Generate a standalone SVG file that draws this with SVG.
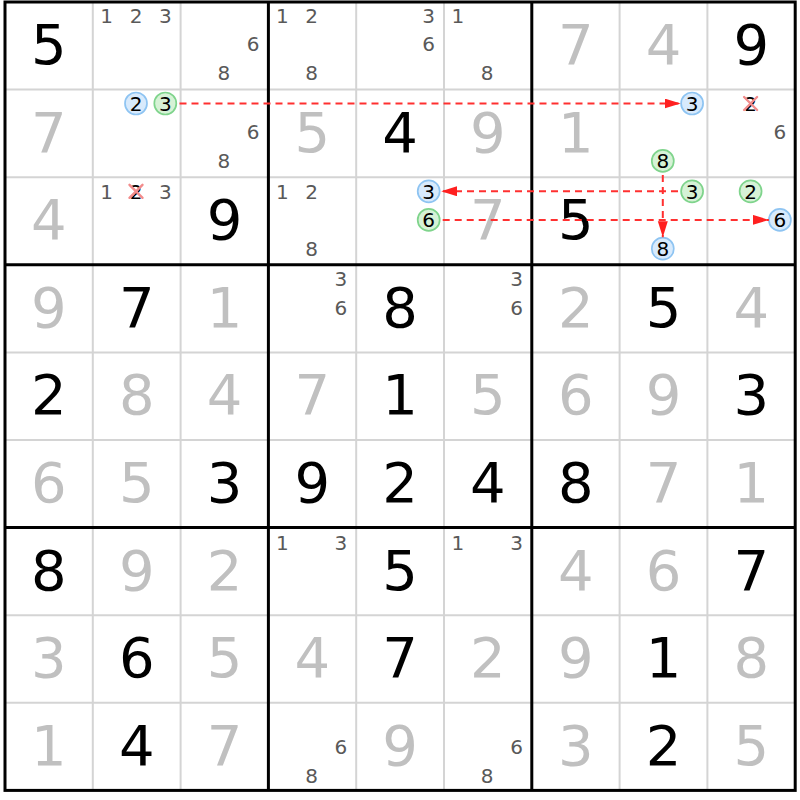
<svg xmlns="http://www.w3.org/2000/svg" width="800" height="800" viewBox="0 0 800 800">
<style>
text{font-family:"DejaVu Sans","Verdana",sans-serif;text-anchor:middle}
.g{font-size:56px;fill:#000}
.s{font-size:56px;fill:#c0c0c0}
.c{font-size:20px;fill:#595959}
.h{font-size:20px;fill:#000}
.cb{fill:#d8eafc;stroke:#8ec4f2;stroke-width:1.7}
.cg{fill:#d6f2d6;stroke:#7fd48c;stroke-width:1.7}
.x{stroke:#f28c8c;stroke-width:2.4;stroke-linecap:round}
.thin{stroke:#d4d4d4;stroke-width:2}
.thick{stroke:#000;stroke-width:3}
.arr{stroke:#ff3030;stroke-width:2;stroke-dasharray:7 5;fill:none;marker-end:url(#ah)}
</style>
<defs>
<marker id="ah" markerUnits="userSpaceOnUse" markerWidth="18" markerHeight="12" refX="16" refY="5" orient="auto">
<path d="M0,0 L16,5 L0,10 Z" fill="#ff2020"/>
</marker>
</defs>
<rect width="800" height="800" fill="#fff"/>
<g id="grid">
<g class="thin">
<line x1="92.8" y1="2" x2="92.8" y2="790.4"/>
<line x1="180.6" y1="2" x2="180.6" y2="790.4"/>
<line x1="356.2" y1="2" x2="356.2" y2="790.4"/>
<line x1="444" y1="2" x2="444" y2="790.4"/>
<line x1="619.6" y1="2" x2="619.6" y2="790.4"/>
<line x1="707.4" y1="2" x2="707.4" y2="790.4"/>
<line x1="5" y1="89.6" x2="795.2" y2="89.6"/>
<line x1="5" y1="177.2" x2="795.2" y2="177.2"/>
<line x1="5" y1="352.4" x2="795.2" y2="352.4"/>
<line x1="5" y1="440" x2="795.2" y2="440"/>
<line x1="5" y1="615.2" x2="795.2" y2="615.2"/>
<line x1="5" y1="702.8" x2="795.2" y2="702.8"/>
</g>
<g class="thick">
<line x1="268.4" y1="2" x2="268.4" y2="790.4"/>
<line x1="531.8" y1="2" x2="531.8" y2="790.4"/>
<line x1="5" y1="264.8" x2="795.2" y2="264.8"/>
<line x1="5" y1="527.6" x2="795.2" y2="527.6"/>
<rect x="5" y="2" width="790.2" height="788.4" fill="none"/>
</g>
</g>
<g id="cells">
<!-- row 0 -->
<g id="r0c0"><text class="g" x="48.9" y="64">5</text></g>
<g id="r0c1"><text class="c" x="106.7" y="22.8">1</text><text class="c" x="136" y="22.8">2</text><text class="c" x="165.3" y="22.8">3</text></g>
<g id="r0c2"><text class="c" x="253.1" y="51.4">6</text><text class="c" x="223.8" y="80.2">8</text></g>
<g id="r0c3"><text class="c" x="282.3" y="22.8">1</text><text class="c" x="311.6" y="22.8">2</text><text class="c" x="311.6" y="80.2">8</text></g>
<g id="r0c4"><text class="c" x="428.7" y="22.8">3</text><text class="c" x="428.7" y="51.4">6</text></g>
<g id="r0c5"><text class="c" x="457.9" y="22.8">1</text><text class="c" x="487.2" y="80.2">8</text></g>
<g id="r0c6"><text class="s" x="575.7" y="64">7</text></g>
<g id="r0c7"><text class="s" x="663.5" y="64">4</text></g>
<g id="r0c8"><text class="g" x="751.3" y="64">9</text></g>
<!-- row 1 -->
<g id="r1c0"><text class="s" x="48.9" y="151.6">7</text></g>
<g id="r1c1"><circle class="cb" cx="136" cy="103.5" r="11"/><text class="h" x="136" y="110.7">2</text><circle class="cg" cx="165.3" cy="103.5" r="11"/><text class="h" x="165.3" y="110.7">3</text></g>
<g id="r1c2"><text class="c" x="253.1" y="139.3">6</text><text class="c" x="223.8" y="168.1">8</text></g>
<g id="r1c3"><text class="s" x="312.3" y="151.6">5</text></g>
<g id="r1c4"><text class="g" x="400.1" y="151.6">4</text></g>
<g id="r1c5"><text class="s" x="487.9" y="151.6">9</text></g>
<g id="r1c6"><text class="s" x="575.7" y="151.6">1</text></g>
<g id="r1c7"><circle class="cb" cx="692.1" cy="103.5" r="11"/><text class="h" x="692.1" y="110.7">3</text><circle class="cg" cx="662.8" cy="160.9" r="11"/><text class="h" x="662.8" y="168.1">8</text></g>
<g id="r1c8"><text class="h" x="750.6" y="110.7">2</text><path class="x" d="M744.1,97 L757.1,110 M757.1,97 L744.1,110"/><text class="c" x="779.9" y="139.3">6</text></g>
<!-- row 2 -->
<g id="r2c0"><text class="s" x="48.9" y="239.2">4</text></g>
<g id="r2c1"><text class="c" x="106.7" y="198.5">1</text><text class="h" x="136" y="198.5">2</text><path class="x" d="M129.5,184.8 L142.5,197.8 M142.5,184.8 L129.5,197.8"/><text class="c" x="165.3" y="198.5">3</text></g>
<g id="r2c2"><text class="g" x="224.5" y="239.2">9</text></g>
<g id="r2c3"><text class="c" x="282.3" y="198.5">1</text><text class="c" x="311.6" y="198.5">2</text><text class="c" x="311.6" y="255.9">8</text></g>
<g id="r2c4"><circle class="cb" cx="428.7" cy="191.3" r="11"/><text class="h" x="428.7" y="198.5">3</text><circle class="cg" cx="428.7" cy="219.9" r="11"/><text class="h" x="428.7" y="227.1">6</text></g>
<g id="r2c5"><text class="s" x="487.9" y="239.2">7</text></g>
<g id="r2c6"><text class="g" x="575.7" y="239.2">5</text></g>
<g id="r2c7"><circle class="cg" cx="692.1" cy="191.3" r="11"/><text class="h" x="692.1" y="198.5">3</text><circle class="cb" cx="662.8" cy="248.7" r="11"/><text class="h" x="662.8" y="255.9">8</text></g>
<g id="r2c8"><circle class="cg" cx="750.6" cy="191.3" r="11"/><text class="h" x="750.6" y="198.5">2</text><circle class="cb" cx="779.9" cy="219.9" r="11"/><text class="h" x="779.9" y="227.1">6</text></g>
<!-- row 3 -->
<g id="r3c0"><text class="s" x="48.9" y="326.8">9</text></g>
<g id="r3c1"><text class="g" x="136.7" y="326.8">7</text></g>
<g id="r3c2"><text class="s" x="224.5" y="326.8">1</text></g>
<g id="r3c3"><text class="c" x="340.9" y="286.4">3</text><text class="c" x="340.9" y="315">6</text></g>
<g id="r3c4"><text class="g" x="400.1" y="326.8">8</text></g>
<g id="r3c5"><text class="c" x="516.5" y="286.4">3</text><text class="c" x="516.5" y="315">6</text></g>
<g id="r3c6"><text class="s" x="575.7" y="326.8">2</text></g>
<g id="r3c7"><text class="g" x="663.5" y="326.8">5</text></g>
<g id="r3c8"><text class="s" x="751.3" y="326.8">4</text></g>
<!-- row 4 -->
<g id="r4c0"><text class="g" x="48.9" y="414.4">2</text></g>
<g id="r4c1"><text class="s" x="136.7" y="414.4">8</text></g>
<g id="r4c2"><text class="s" x="224.5" y="414.4">4</text></g>
<g id="r4c3"><text class="s" x="312.3" y="414.4">7</text></g>
<g id="r4c4"><text class="g" x="400.1" y="414.4">1</text></g>
<g id="r4c5"><text class="s" x="487.9" y="414.4">5</text></g>
<g id="r4c6"><text class="s" x="575.7" y="414.4">6</text></g>
<g id="r4c7"><text class="s" x="663.5" y="414.4">9</text></g>
<g id="r4c8"><text class="g" x="751.3" y="414.4">3</text></g>
<!-- row 5 -->
<g id="r5c0"><text class="s" x="48.9" y="502">6</text></g>
<g id="r5c1"><text class="s" x="136.7" y="502">5</text></g>
<g id="r5c2"><text class="g" x="224.5" y="502">3</text></g>
<g id="r5c3"><text class="g" x="312.3" y="502">9</text></g>
<g id="r5c4"><text class="g" x="400.1" y="502">2</text></g>
<g id="r5c5"><text class="g" x="487.9" y="502">4</text></g>
<g id="r5c6"><text class="g" x="575.7" y="502">8</text></g>
<g id="r5c7"><text class="s" x="663.5" y="502">7</text></g>
<g id="r5c8"><text class="s" x="751.3" y="502">1</text></g>
<!-- row 6 -->
<g id="r6c0"><text class="g" x="48.9" y="589.6">8</text></g>
<g id="r6c1"><text class="s" x="136.7" y="589.6">9</text></g>
<g id="r6c2"><text class="s" x="224.5" y="589.6">2</text></g>
<g id="r6c3"><text class="c" x="282.3" y="549.9">1</text><text class="c" x="340.9" y="549.9">3</text></g>
<g id="r6c4"><text class="g" x="400.1" y="589.6">5</text></g>
<g id="r6c5"><text class="c" x="457.9" y="549.9">1</text><text class="c" x="516.5" y="549.9">3</text></g>
<g id="r6c6"><text class="s" x="575.7" y="589.6">4</text></g>
<g id="r6c7"><text class="s" x="663.5" y="589.6">6</text></g>
<g id="r6c8"><text class="g" x="751.3" y="589.6">7</text></g>
<!-- row 7 -->
<g id="r7c0"><text class="s" x="48.9" y="677.2">3</text></g>
<g id="r7c1"><text class="g" x="136.7" y="677.2">6</text></g>
<g id="r7c2"><text class="s" x="224.5" y="677.2">5</text></g>
<g id="r7c3"><text class="s" x="312.3" y="677.2">4</text></g>
<g id="r7c4"><text class="g" x="400.1" y="677.2">7</text></g>
<g id="r7c5"><text class="s" x="487.9" y="677.2">2</text></g>
<g id="r7c6"><text class="s" x="575.7" y="677.2">9</text></g>
<g id="r7c7"><text class="g" x="663.5" y="677.2">1</text></g>
<g id="r7c8"><text class="s" x="751.3" y="677.2">8</text></g>
<!-- row 8 -->
<g id="r8c0"><text class="s" x="48.9" y="764.8">1</text></g>
<g id="r8c1"><text class="g" x="136.7" y="764.8">4</text></g>
<g id="r8c2"><text class="s" x="224.5" y="764.8">7</text></g>
<g id="r8c3"><text class="c" x="340.9" y="754.2">6</text><text class="c" x="311.6" y="783">8</text></g>
<g id="r8c4"><text class="s" x="400.1" y="764.8">9</text></g>
<g id="r8c5"><text class="c" x="516.5" y="754.2">6</text><text class="c" x="487.2" y="783">8</text></g>
<g id="r8c6"><text class="s" x="575.7" y="764.8">3</text></g>
<g id="r8c7"><text class="g" x="663.5" y="764.8">2</text></g>
<g id="r8c8"><text class="s" x="751.3" y="764.8">5</text></g>
</g>
<g id="connectors">
<line class="arr" x1="179.5" y1="103.5" x2="680.6" y2="103.5"/>
<line class="arr" x1="678" y1="191.3" x2="441.2" y2="191.3"/>
<line class="arr" x1="442.7" y1="219.9" x2="768.9" y2="219.9"/>
<line class="arr" x1="662.8" y1="175" x2="662.8" y2="237.2"/>
</g>
</svg>
